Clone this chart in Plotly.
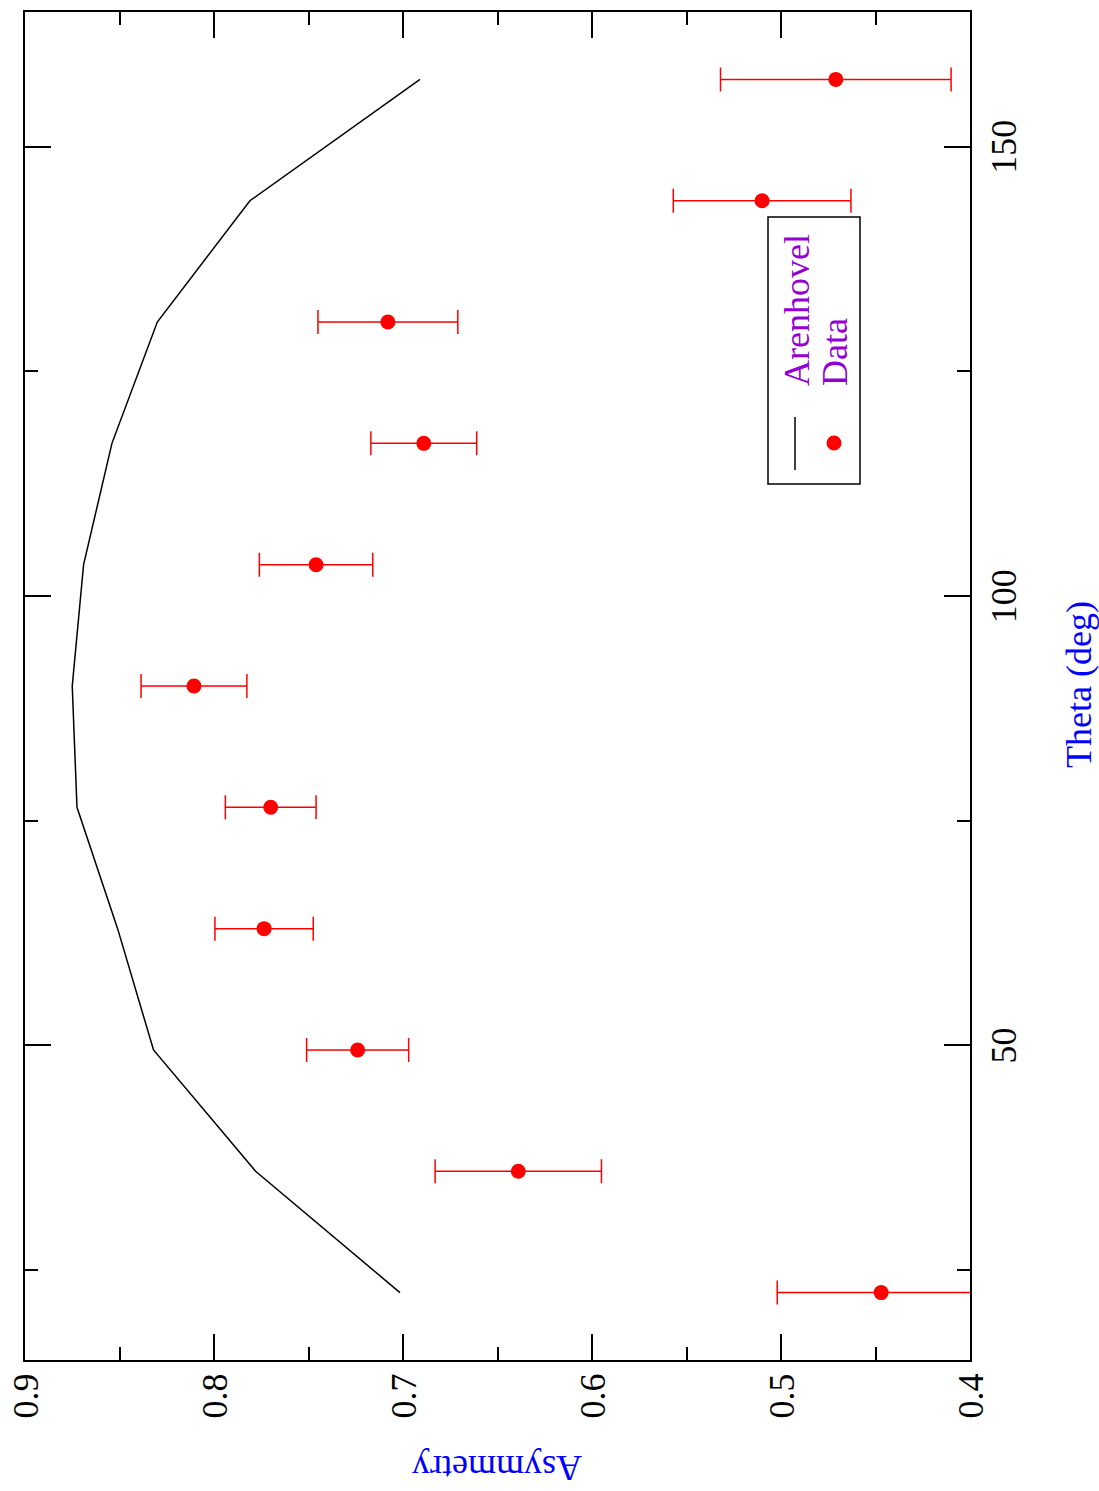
import plotly.graph_objects as go

theta = [22.5, 36.0, 49.5, 63.0, 76.5, 90.0, 103.5, 117.0, 130.5, 144.0, 157.5]
data_asym = [0.447, 0.639, 0.724, 0.7735, 0.770, 0.8106, 0.746, 0.689, 0.708, 0.510, 0.471]
data_err = [0.055, 0.044, 0.027, 0.026, 0.024, 0.028, 0.030, 0.028, 0.037, 0.047, 0.061]
theory_asym = [0.7016, 0.778, 0.832, 0.851, 0.8725, 0.875, 0.869, 0.854, 0.830, 0.781, 0.691]

x_ticks = [0.4, 0.5, 0.6, 0.7, 0.8, 0.9]
x_tick_labels = ["0.4", "0.5", "0.6", "0.7", "0.8", "0.9"]
x_minor = [0.45, 0.55, 0.65, 0.75, 0.85]
y_ticks = [50, 100, 150]
y_tick_labels = ["50", "100", "150"]
y_minor = [25, 75, 125]

FONT = "Liberation Serif"
W, H = 1099, 1491
L, R, T, B = 25, 129, 12, 131
pw, ph = W - L - R, H - T - B

def px(xp):
    return (xp - L) / pw

def py(yp):
    return (H - B - yp) / ph

fig = go.Figure()
fig.add_trace(go.Scatter(
    x=theory_asym, y=theta, mode="lines",
    line=dict(color="black", width=1.5), name="Arenhovel", showlegend=False))
fig.add_trace(go.Scatter(
    x=data_asym, y=theta, mode="markers",
    marker=dict(color="red", size=15),
    error_x=dict(type="data", array=data_err, color="red", thickness=1.5, width=12),
    name="Data", showlegend=False))

def axis_style():
    return dict(
        showline=True, linecolor="black", linewidth=2, mirror="ticks",
        ticks="inside", ticklen=26, tickwidth=2, tickcolor="black",
        showgrid=False, zeroline=False, automargin=False,
        showticklabels=False,
    )

fig.update_layout(
    template="none",
    width=W, height=H,
    margin=dict(l=L, r=R, t=T, b=B),
    paper_bgcolor="white", plot_bgcolor="white",
    font=dict(family=FONT, size=36, color="black"),
    showlegend=False,
)
fig.update_xaxes(range=[0.9, 0.4], tickvals=x_ticks,
                 minor=dict(tickvals=x_minor, ticks="inside", ticklen=13, tickwidth=2, tickcolor="black"),
                 **axis_style())
fig.update_yaxes(range=[15, 165], side="right", tickvals=y_ticks,
                 minor=dict(tickvals=y_minor, ticks="inside", ticklen=13, tickwidth=2, tickcolor="black"),
                 **axis_style())

tick_font = dict(family=FONT, size=36, color="black")
for v, t in zip(x_ticks, x_tick_labels):
    fig.add_annotation(text=t, xref="x", x=v, yref="paper", y=py(1373),
                       textangle=-90, showarrow=False, xanchor="center", yanchor="top",
                       borderpad=0, font=tick_font)
for v, t in zip(y_ticks, y_tick_labels):
    fig.add_annotation(text=t, xref="paper", x=px(983), yref="y", y=v,
                       textangle=-90, showarrow=False, xanchor="left", yanchor="middle",
                       borderpad=0, font=tick_font)

# axis titles
fig.add_annotation(text="Asymmetry", xref="paper", yref="paper", x=px(497), y=py(1468),
                   textangle=180, showarrow=False, xanchor="center", yanchor="middle",
                   font=dict(family=FONT, size=36, color="#0000FF"))
fig.add_annotation(text="Theta (deg)", xref="paper", yref="paper", x=px(1079), y=py(685),
                   textangle=-90, showarrow=False, xanchor="center", yanchor="middle",
                   font=dict(family=FONT, size=36, color="#0000FF"))

# legend
fig.add_shape(type="rect", xref="paper", yref="paper", x0=px(768), x1=px(860), y0=py(484), y1=py(217),
              line=dict(color="black", width=1.5), fillcolor="rgba(0,0,0,0)")
fig.add_shape(type="line", xref="paper", yref="paper", x0=px(795), x1=px(795), y0=py(470), y1=py(417),
              line=dict(color="black", width=1.5))
fig.add_shape(type="circle", xref="paper", yref="paper", xsizemode="pixel", ysizemode="pixel",
              xanchor=px(834), yanchor=py(443), x0=-7.5, x1=7.5, y0=-7.5, y1=7.5,
              line=dict(color="red", width=0), fillcolor="red")
fig.add_annotation(text="Arenhovel", xref="paper", yref="paper", x=px(797), y=py(388),
                   textangle=-90, showarrow=False, xanchor="center", yanchor="bottom",
                   font=dict(family=FONT, size=36, color="#9400D3"))
fig.add_annotation(text="Data", xref="paper", yref="paper", x=px(835), y=py(388),
                   textangle=-90, showarrow=False, xanchor="center", yanchor="bottom",
                   font=dict(family=FONT, size=36, color="#9400D3"))

fig.write_html("out.html")
